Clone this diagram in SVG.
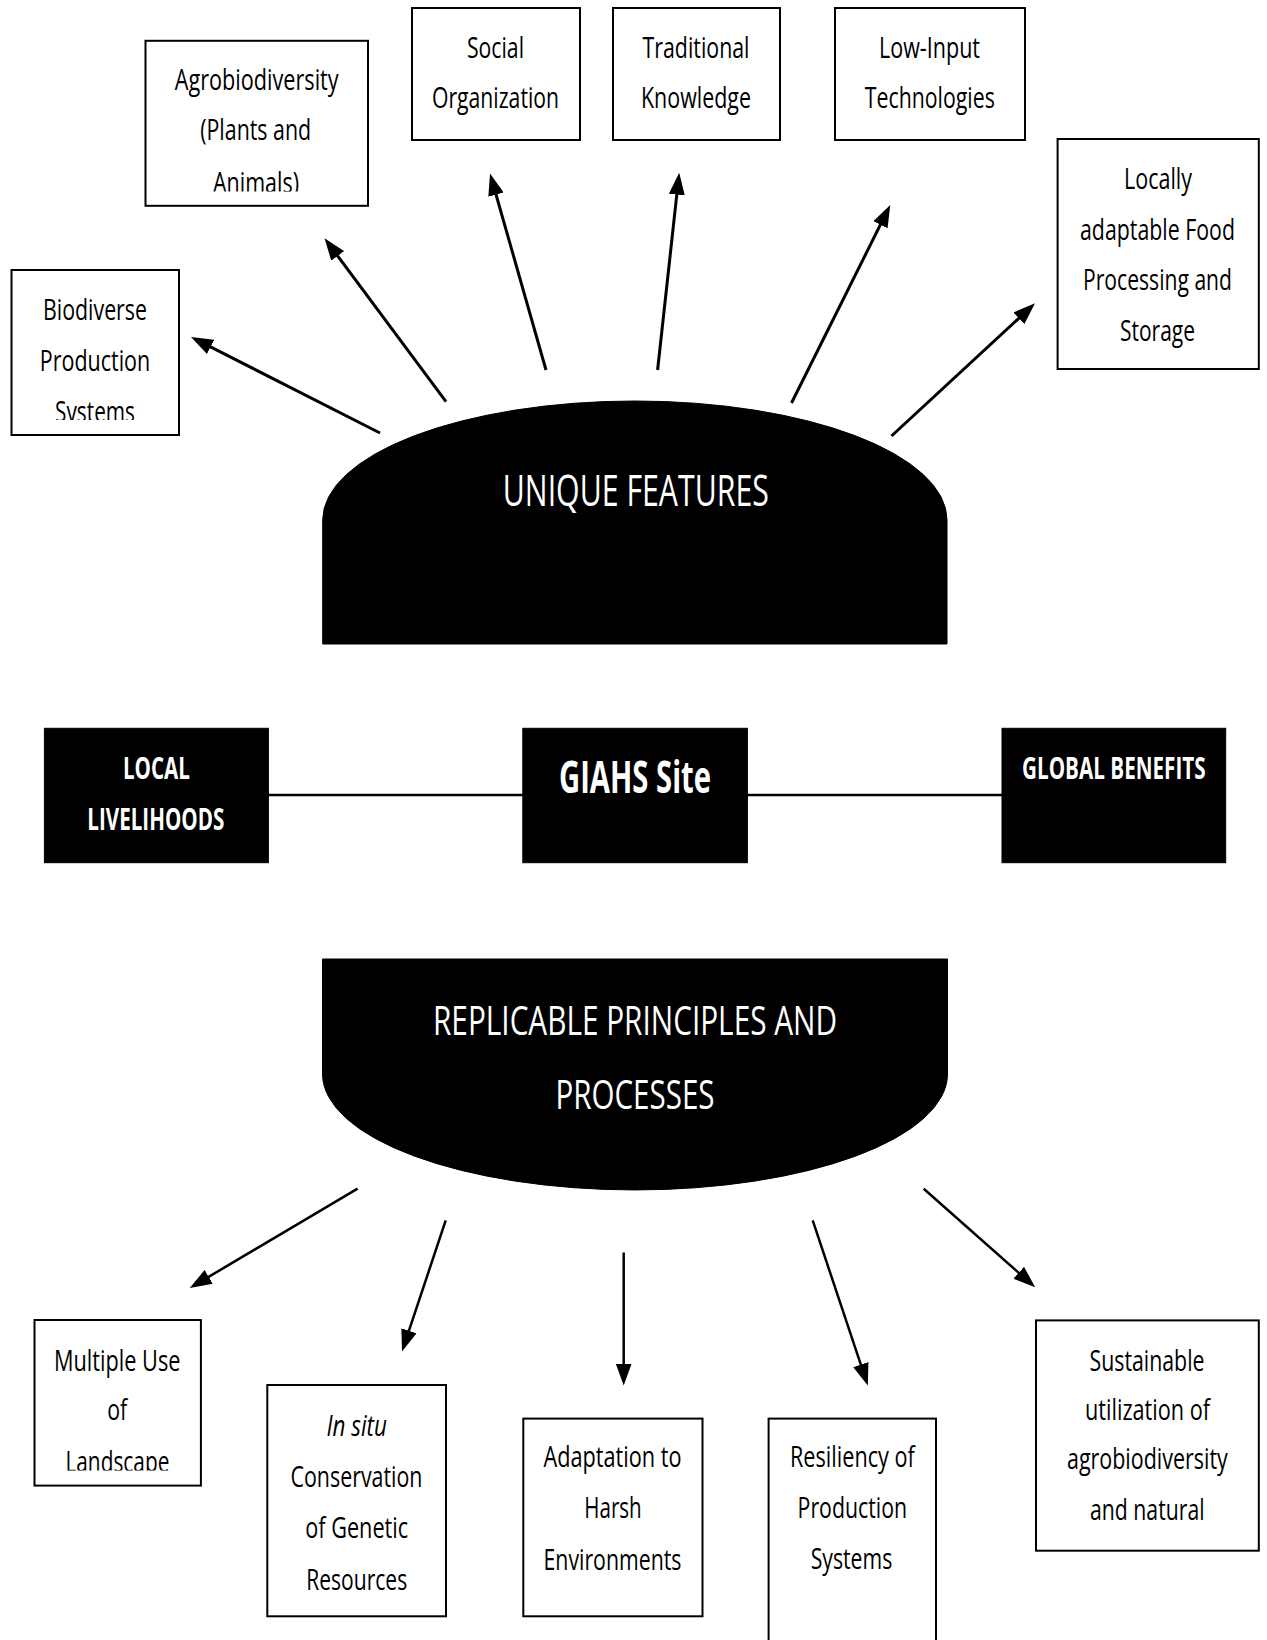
<svg xmlns="http://www.w3.org/2000/svg" width="1267" height="1640" viewBox="0 0 1267 1640">
<style>
.box{fill:#fff;stroke:#000;stroke-width:2}
.blk{fill:#000;stroke:#000;stroke-width:1}
.t{font-family:"Open Sans","Noto Sans","DejaVu Sans",sans-serif;font-size:29px;fill:#000;text-anchor:middle}
.w{font-family:"Open Sans","Noto Sans","DejaVu Sans",sans-serif;fill:#fff;text-anchor:middle}
.b{font-weight:bold}
.con{stroke:#000;stroke-width:3;fill:none}
.con2{stroke:#000;stroke-width:2.5;fill:none}
</style>
<defs>
<marker id="ah" markerUnits="userSpaceOnUse" markerWidth="22" markerHeight="16" refX="10" refY="8" orient="auto">
<path d="M0,0 L22,8 L0,16 Z" fill="#000"/>
</marker>
<clipPath id="c1"><rect x="0" y="260" width="200" height="160"/></clipPath>
<clipPath id="c2"><rect x="140" y="30" width="240" height="161.5"/></clipPath>
<clipPath id="c3"><rect x="30" y="1310" width="180" height="160.5"/></clipPath>
</defs>
<rect width="1267" height="1640" fill="#fff"/>

<g id="connectors">
<line class="con" x1="380" y1="433" x2="201.7" y2="342.4" marker-end="url(#ah)"/>
<line class="con" x1="446" y1="401.7" x2="331.7" y2="247.9" marker-end="url(#ah)"/>
<line class="con" x1="546" y1="370" x2="493.3" y2="185" marker-end="url(#ah)"/>
<line class="con" x1="657.6" y1="370" x2="677.9" y2="184.6" marker-end="url(#ah)"/>
<line class="con" x1="791.5" y1="403" x2="884.9" y2="215.7" marker-end="url(#ah)"/>
<line class="con" x1="891.5" y1="436" x2="1026.2" y2="311.5" marker-end="url(#ah)"/>
<line class="con2" x1="268" y1="795" x2="523" y2="795"/>
<line class="con2" x1="747" y1="795" x2="1002" y2="795"/>
<line class="con2" x1="357.6" y1="1188.7" x2="200.1" y2="1281.9" marker-end="url(#ah)"/>
<line class="con2" x1="445.7" y1="1220.4" x2="405.8" y2="1340.2" marker-end="url(#ah)"/>
<line class="con2" x1="623.7" y1="1252.5" x2="623.7" y2="1373.5" marker-end="url(#ah)"/>
<line class="con2" x1="812.7" y1="1220.4" x2="864" y2="1374.1" marker-end="url(#ah)"/>
<line class="con2" x1="923.7" y1="1188.7" x2="1026.2" y2="1279.4" marker-end="url(#ah)"/>
</g>

<g id="biodiverse">
<rect class="box" x="11.5" y="270" width="167.5" height="165"/>
<g clip-path="url(#c1)">
<text class="t" x="95" y="320" textLength="104" lengthAdjust="spacingAndGlyphs">Biodiverse</text>
<text class="t" x="95" y="371" textLength="110.5" lengthAdjust="spacingAndGlyphs">Production</text>
<text class="t" x="95" y="422" textLength="80" lengthAdjust="spacingAndGlyphs">Systems</text>
</g>
</g>

<g id="agrobiodiversity">
<rect class="box" x="145.5" y="40.8" width="222.5" height="165"/>
<g clip-path="url(#c2)">
<text class="t" x="256.7" y="90" textLength="164" lengthAdjust="spacingAndGlyphs">Agrobiodiversity</text>
<text class="t" x="255.7" y="140" textLength="111" lengthAdjust="spacingAndGlyphs">(Plants and</text>
<text class="t" x="256" y="192.5" textLength="86" lengthAdjust="spacingAndGlyphs">Animals)</text>
</g>
</g>

<g id="social">
<rect class="box" x="412" y="8" width="168" height="132"/>
<text class="t" x="495.5" y="58.3" textLength="57" lengthAdjust="spacingAndGlyphs">Social</text>
<text class="t" x="495.5" y="108" textLength="127" lengthAdjust="spacingAndGlyphs">Organization</text>
</g>

<g id="traditional">
<rect class="box" x="613" y="8" width="167" height="132"/>
<text class="t" x="696" y="58.3" textLength="107" lengthAdjust="spacingAndGlyphs">Traditional</text>
<text class="t" x="696" y="108" textLength="110" lengthAdjust="spacingAndGlyphs">Knowledge</text>
</g>

<g id="lowinput">
<rect class="box" x="835" y="8" width="190" height="132"/>
<text class="t" x="929.5" y="58.3" textLength="101" lengthAdjust="spacingAndGlyphs">Low-Input</text>
<text class="t" x="929.8" y="108" textLength="130" lengthAdjust="spacingAndGlyphs">Technologies</text>
</g>

<g id="locally">
<rect class="box" x="1057.6" y="139" width="201.2" height="230"/>
<text class="t" x="1158" y="189" textLength="68" lengthAdjust="spacingAndGlyphs">Locally</text>
<text class="t" x="1157.5" y="240" textLength="155" lengthAdjust="spacingAndGlyphs">adaptable Food</text>
<text class="t" x="1157.5" y="290" textLength="149" lengthAdjust="spacingAndGlyphs">Processing and</text>
<text class="t" x="1157.5" y="341" textLength="75" lengthAdjust="spacingAndGlyphs">Storage</text>
</g>

<g id="unique">
<path class="blk" d="M322.7,644 L322.7,520 A312.15,119 0 0 1 947,520 L947,644 Z"/>
<text class="w" x="635.8" y="506" font-size="43" textLength="266" lengthAdjust="spacingAndGlyphs">UNIQUE FEATURES</text>
</g>

<g id="local">
<rect class="blk" x="44.4" y="728.3" width="224" height="134.4"/>
<text class="w b" x="156.4" y="779.3" font-size="31" textLength="67" lengthAdjust="spacingAndGlyphs">LOCAL</text>
<text class="w b" x="155.8" y="830" font-size="31" textLength="137" lengthAdjust="spacingAndGlyphs">LIVELIHOODS</text>
</g>

<g id="giahs">
<rect class="blk" x="522.8" y="728.3" width="224.6" height="134.4"/>
<text class="w b" x="635" y="793.3" font-size="44" textLength="152" lengthAdjust="spacingAndGlyphs">GIAHS Site</text>
</g>

<g id="global">
<rect class="blk" x="1002" y="728.3" width="223.7" height="134.4"/>
<text class="w b" x="1113.8" y="779" font-size="31" textLength="183.6" lengthAdjust="spacingAndGlyphs">GLOBAL BENEFITS</text>
</g>

<g id="replicable">
<path class="blk" d="M322.5,959 L947.5,959 L947.5,1074 A312.5,116 0 0 1 322.5,1074 Z"/>
<text class="w" x="635" y="1035" font-size="41" textLength="404" lengthAdjust="spacingAndGlyphs">REPLICABLE PRINCIPLES AND</text>
<text class="w" x="635" y="1108.7" font-size="41" textLength="159" lengthAdjust="spacingAndGlyphs">PROCESSES</text>
</g>

<g id="multiple">
<rect class="box" x="34.5" y="1320" width="166.4" height="165.6"/>
<g clip-path="url(#c3)">
<text class="t" x="117.2" y="1371" textLength="126.5" lengthAdjust="spacingAndGlyphs">Multiple Use</text>
<text class="t" x="117.2" y="1420" textLength="20" lengthAdjust="spacingAndGlyphs">of</text>
<text class="t" x="117.4" y="1472" textLength="104" lengthAdjust="spacingAndGlyphs">Landscape</text>
</g>
</g>

<g id="insitu">
<rect class="box" x="267.3" y="1385" width="178.7" height="231.3"/>
<text class="t" x="356.7" y="1436.4" font-style="italic" textLength="60.5" lengthAdjust="spacingAndGlyphs">In situ</text>
<text class="t" x="356.5" y="1487" textLength="132" lengthAdjust="spacingAndGlyphs">Conservation</text>
<text class="t" x="356.7" y="1538" textLength="103" lengthAdjust="spacingAndGlyphs">of Genetic</text>
<text class="t" x="356.7" y="1589.5" textLength="101" lengthAdjust="spacingAndGlyphs">Resources</text>
</g>

<g id="adaptation">
<rect class="box" x="523.3" y="1418.6" width="179.2" height="197.7"/>
<text class="t" x="612.5" y="1467" textLength="138" lengthAdjust="spacingAndGlyphs">Adaptation to</text>
<text class="t" x="613" y="1518" textLength="57.5" lengthAdjust="spacingAndGlyphs">Harsh</text>
<text class="t" x="612.5" y="1569.5" textLength="138" lengthAdjust="spacingAndGlyphs">Environments</text>
</g>

<g id="resiliency">
<rect class="box" x="768.6" y="1418.6" width="167.4" height="240"/>
<text class="t" x="852.4" y="1467" textLength="124.8" lengthAdjust="spacingAndGlyphs">Resiliency of</text>
<text class="t" x="852.3" y="1518" textLength="109.4" lengthAdjust="spacingAndGlyphs">Production</text>
<text class="t" x="851.5" y="1568.6" textLength="81.6" lengthAdjust="spacingAndGlyphs">Systems</text>
</g>

<g id="sustainable">
<rect class="box" x="1036" y="1320.4" width="222.8" height="230.3"/>
<text class="t" x="1147" y="1371" textLength="115" lengthAdjust="spacingAndGlyphs">Sustainable</text>
<text class="t" x="1147.5" y="1420" textLength="125" lengthAdjust="spacingAndGlyphs">utilization of</text>
<text class="t" x="1147.4" y="1469" textLength="160.8" lengthAdjust="spacingAndGlyphs">agrobiodiversity</text>
<text class="t" x="1147.3" y="1520" textLength="114.5" lengthAdjust="spacingAndGlyphs">and natural</text>
</g>
</svg>
